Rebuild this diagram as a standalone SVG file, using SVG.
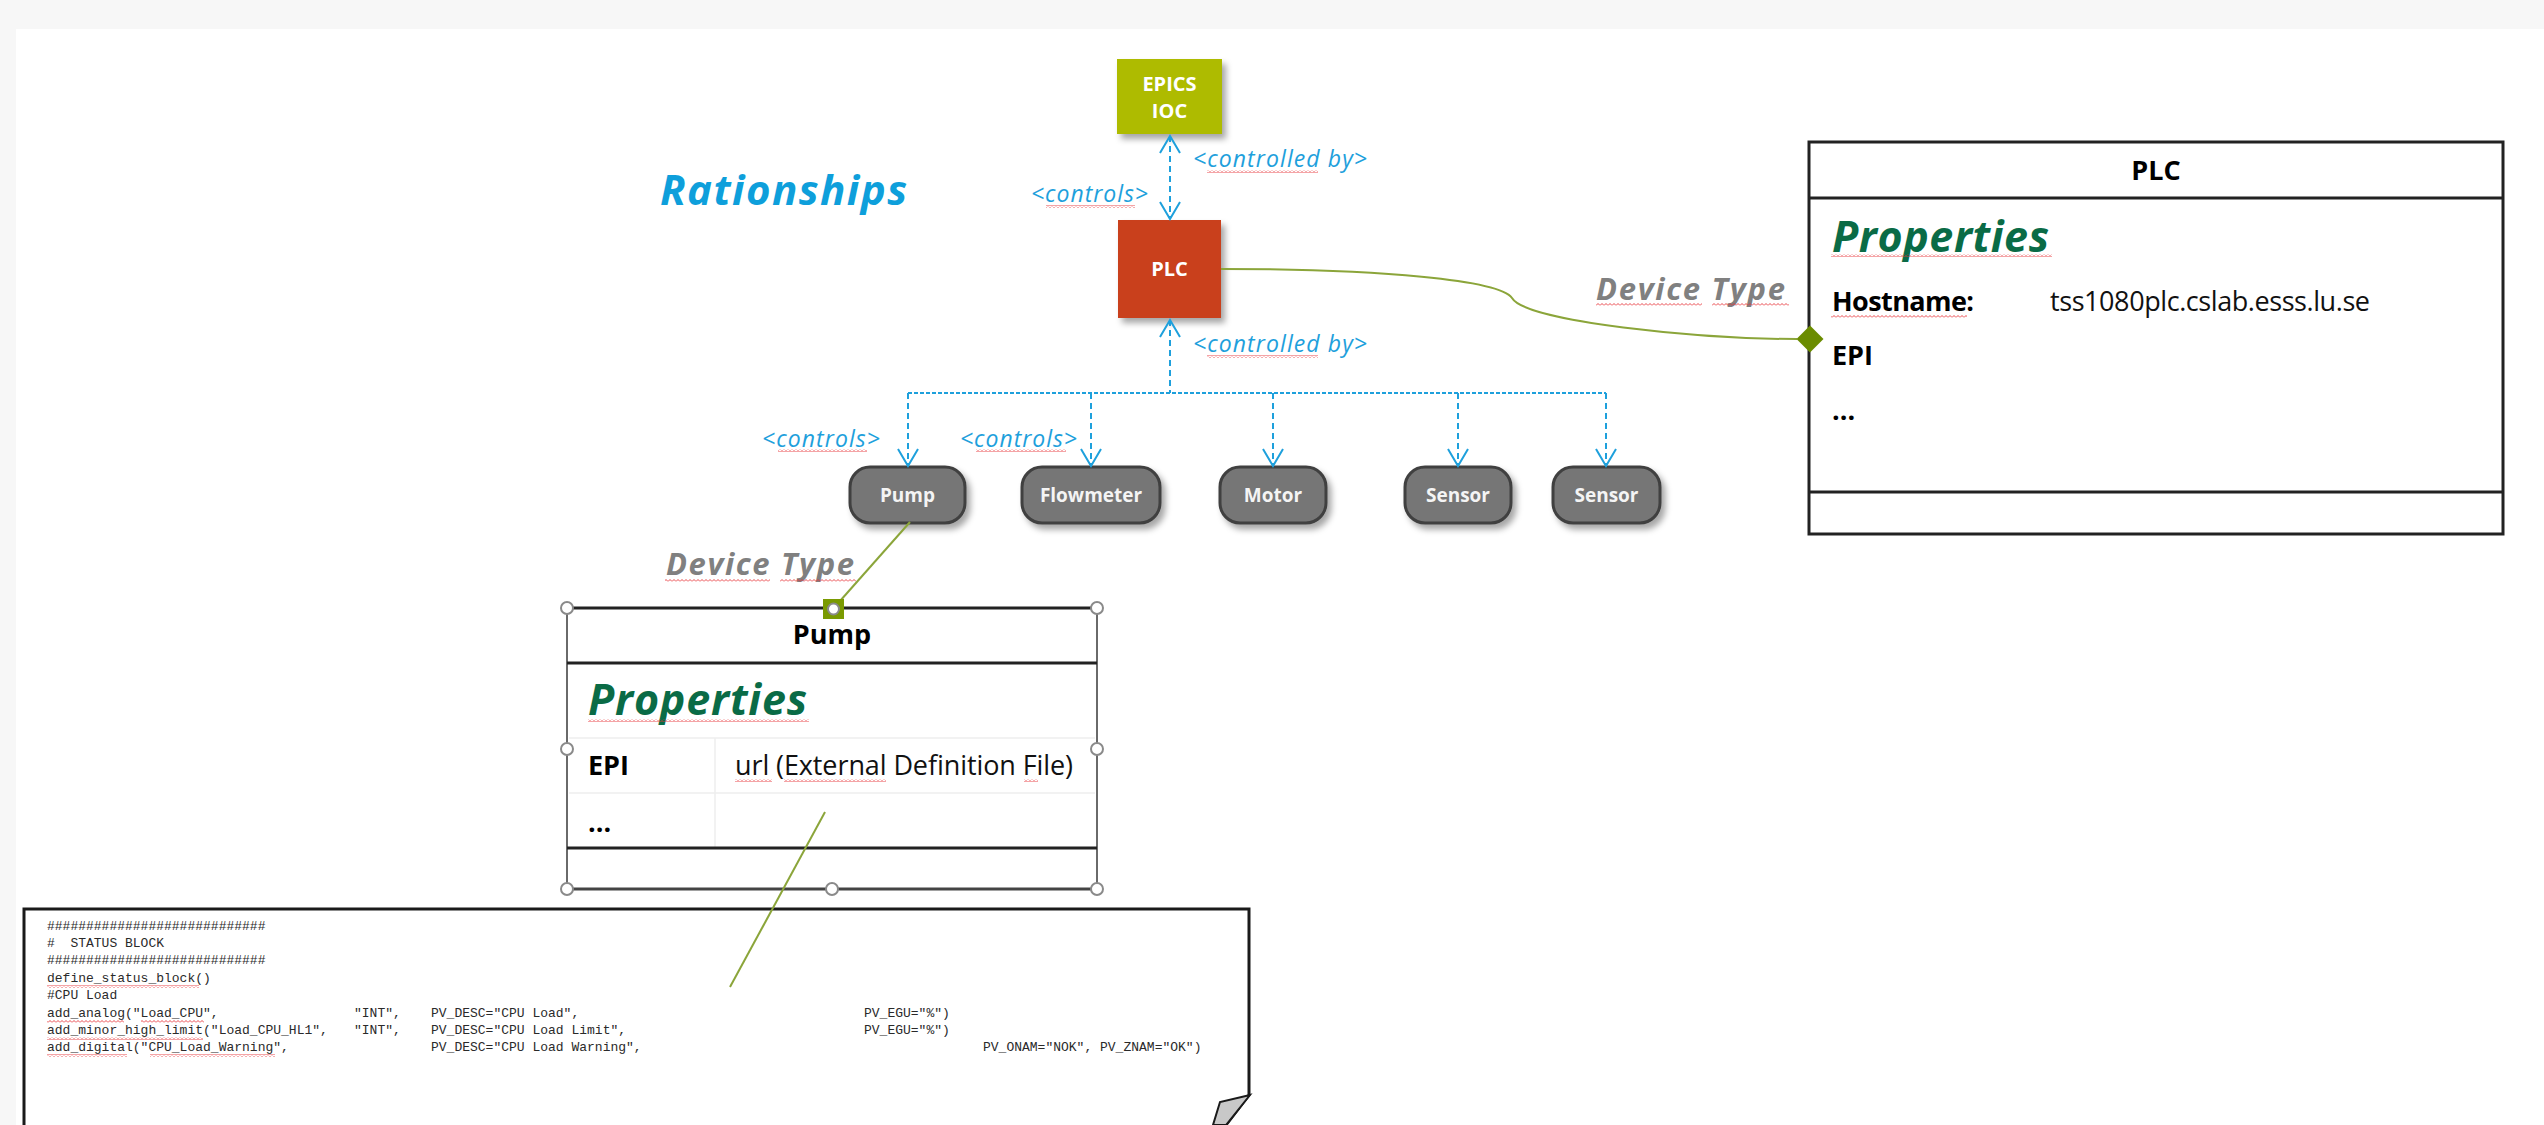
<svg xmlns="http://www.w3.org/2000/svg" width="2544" height="1125" viewBox="0 0 2544 1125">
<defs>
<style>
.bg{fill:#f7f7f7}
.page{fill:#ffffff}
.lbl{font-family:"Open Sans","Noto Sans","Liberation Sans",sans-serif;font-style:italic;font-size:23px;fill:#1ea0dc}
.title{font-family:"Open Sans","Noto Sans","Liberation Sans",sans-serif;font-style:italic;font-weight:bold;font-size:42px;fill:#0e9fdb}
.boxtxt{font-family:"Open Sans","Noto Sans","Liberation Sans",sans-serif;font-weight:bold;font-size:20px;fill:#ffffff;text-anchor:middle}
.pilltxt{font-family:"Open Sans","Noto Sans","Liberation Sans",sans-serif;font-weight:bold;font-size:19px;fill:#f4f4f4;text-anchor:middle}
.pill{fill:#767676;stroke:#3f3f3f;stroke-width:3}
.dt{font-family:"Open Sans","Noto Sans","Liberation Sans",sans-serif;font-style:italic;font-weight:bold;font-size:31px;fill:#808080}
.prop{font-family:"Open Sans","Noto Sans","Liberation Sans",sans-serif;font-style:italic;font-weight:bold;font-size:43px;fill:#0a6b46}
.cls{font-family:"Open Sans","Noto Sans","Liberation Sans",sans-serif;font-weight:bold;font-size:27px;fill:#000000}
.val{font-family:"Open Sans","Noto Sans","Liberation Sans",sans-serif;font-size:27px;fill:#111111}
.code{font-family:"Liberation Mono","DejaVu Sans Mono",monospace;font-size:13px;fill:#2a2a2a;white-space:pre}
.dash{fill:none;stroke:#1ea0dc;stroke-width:2;stroke-dasharray:6 4}
.dot{fill:none;stroke:#1ea0dc;stroke-width:2;stroke-dasharray:4 2}
.green{fill:none;stroke:#8ba53a;stroke-width:2}
.thin{stroke:#eeeeee;stroke-width:1.5}
.handle{fill:#ffffff;stroke:#8a8a8a;stroke-width:2}
.sq{fill:url(#squig)}
</style>
<pattern id="squig" width="4" height="3" patternUnits="userSpaceOnUse">
<path d="M0,2.5 L2,0.5 L4,2.5" fill="none" stroke="#e8343a" stroke-width="0.9"/>
</pattern>
<marker id="arr" viewBox="-20 -12 24 24" refX="0" refY="0" markerWidth="24" markerHeight="24" markerUnits="userSpaceOnUse" orient="auto-start-reverse">
<path d="M-17,-10 L0,0 L-17,10" fill="none" stroke="#1ea0dc" stroke-width="2"/>
</marker>
<filter id="shadow" x="-20%" y="-20%" width="150%" height="150%">
<feDropShadow dx="4" dy="5" stdDeviation="3" flood-color="#000000" flood-opacity="0.35"/>
</filter>
</defs>

<rect class="bg" x="0" y="0" width="2544" height="1125"/>
<rect class="page" x="16" y="29" width="2528" height="1096"/>

<text class="title" x="660" y="205" textLength="247">Rationships</text>

<g id="epics-ioc">
<rect x="1117" y="59" width="105" height="75" fill="#aebb00" filter="url(#shadow)"/>
<text class="boxtxt" x="1169.5" y="91">EPICS</text>
<text class="boxtxt" x="1169.5" y="118">IOC</text>
</g>

<g id="plc">
<rect x="1118" y="220" width="103" height="98" fill="#c9411f" filter="url(#shadow)"/>
<text class="boxtxt" x="1169.5" y="276">PLC</text>
</g>

<g id="pump">
<rect class="pill" x="850" y="467" width="115" height="56" rx="20" filter="url(#shadow)"/>
<text class="pilltxt" x="907.5" y="502">Pump</text>
</g>
<g id="flowmeter">
<rect class="pill" x="1022" y="467" width="138" height="56" rx="20" filter="url(#shadow)"/>
<text class="pilltxt" x="1091" y="502">Flowmeter</text>
</g>
<g id="motor">
<rect class="pill" x="1220" y="467" width="106" height="56" rx="20" filter="url(#shadow)"/>
<text class="pilltxt" x="1273" y="502">Motor</text>
</g>
<g id="sensor1">
<rect class="pill" x="1405" y="467" width="106" height="56" rx="20" filter="url(#shadow)"/>
<text class="pilltxt" x="1458" y="502">Sensor</text>
</g>
<g id="sensor2">
<rect class="pill" x="1553" y="467" width="107" height="56" rx="20" filter="url(#shadow)"/>
<text class="pilltxt" x="1606.5" y="502">Sensor</text>
</g>

<g id="plc-class">
<rect x="1809" y="142" width="694" height="392" fill="#ffffff" stroke="#222222" stroke-width="3"/>
<line x1="1809" y1="198" x2="2503" y2="198" stroke="#222222" stroke-width="3"/>
<line x1="1809" y1="492" x2="2503" y2="492" stroke="#222222" stroke-width="3"/>
<text class="cls" x="2156" y="180" text-anchor="middle" font-size="28">PLC</text>
<text class="prop" x="1832" y="252" textLength="217">Properties</text>
<rect class="sq" x="1831" y="254" width="221" height="3"/>
<text class="cls" x="1832" y="311" textLength="142">Hostname:</text>
<rect class="sq" x="1831" y="315" width="136" height="3"/>
<text class="val" x="2050" y="311" textLength="320">tss1080plc.cslab.esss.lu.se</text>
<text class="cls" x="1832" y="365">EPI</text>
<text class="cls" x="1832" y="420">...</text>
</g>

<g id="pump-class">
<rect x="567" y="608" width="530" height="281" fill="#ffffff" stroke="#6a6a6a" stroke-width="2"/>
<line x1="567" y1="608" x2="1097" y2="608" stroke="#222222" stroke-width="3"/>
<line x1="567" y1="663" x2="1097" y2="663" stroke="#222222" stroke-width="3"/>
<line class="thin" x1="569" y1="738" x2="1095" y2="738"/>
<line class="thin" x1="569" y1="793" x2="1095" y2="793"/>
<line class="thin" x1="715" y1="738" x2="715" y2="848"/>
<line x1="567" y1="848" x2="1097" y2="848" stroke="#222222" stroke-width="3"/>
<line x1="567" y1="889" x2="1097" y2="889" stroke="#444444" stroke-width="3"/>
<text class="cls" x="832" y="644" text-anchor="middle" font-size="26">Pump</text>
<text class="prop" x="588" y="715" textLength="219">Properties</text>
<rect class="sq" x="588" y="719" width="221" height="3"/>
<text class="cls" x="588" y="775">EPI</text>
<text class="val" x="735" y="775" textLength="338">url (External Definition File)</text>
<rect class="sq" x="735" y="779" width="37" height="3"/>
<rect class="sq" x="784" y="779" width="102" height="3"/>
<rect class="sq" x="1024" y="779" width="14" height="3"/>
<text class="cls" x="588" y="832">...</text>
</g>

<g id="code-note">
<path d="M24,1125 L24,909 L1249,909 L1249,1095 L1226,1125" fill="#ffffff" stroke="#1a1a1a" stroke-width="3"/>
<path d="M1250,1095 L1220,1102 L1213,1125 L1226,1125 Z" fill="#c8c8c8" stroke="#1a1a1a" stroke-width="2"/>
<text class="code" x="47" y="930">############################</text>
<text class="code" x="47" y="947">#  STATUS BLOCK</text>
<text class="code" x="47" y="964">############################</text>
<text class="code" x="47" y="982">define_status_block()</text>
<text class="code" x="47" y="999">#CPU Load</text>
<text class="code" y="1016.5"><tspan x="47">add_analog("Load_CPU",</tspan><tspan x="354">"INT",</tspan><tspan x="431">PV_DESC="CPU Load",</tspan><tspan x="864">PV_EGU="%")</tspan></text>
<text class="code" y="1033.5"><tspan x="47">add_minor_high_limit("Load_CPU_HL1",</tspan><tspan x="354">"INT",</tspan><tspan x="431">PV_DESC="CPU Load Limit",</tspan><tspan x="864">PV_EGU="%")</tspan></text>
<text class="code" y="1050.5"><tspan x="47">add_digital("CPU_Load_Warning",</tspan><tspan x="431">PV_DESC="CPU Load Warning",</tspan><tspan x="983">PV_ONAM="NOK", PV_ZNAM="OK")</tspan></text>
<rect class="sq" x="47" y="985" width="152" height="3"/>
<rect class="sq" x="47" y="1020" width="77" height="3"/>
<rect class="sq" x="141" y="1020" width="63" height="3"/>
<rect class="sq" x="47" y="1037" width="156" height="3"/>
<rect class="sq" x="47" y="1054" width="80" height="3"/>
<rect class="sq" x="150" y="1054" width="125" height="3"/>
</g>

<g id="connectors">
<path class="dash" d="M1170,136 L1170,219" marker-start="url(#arr)" marker-end="url(#arr)"/>
<path class="dash" d="M1170,320 L1170,393" marker-start="url(#arr)"/>
<path class="dot" d="M908,393 L1606,393"/>
<path class="dash" d="M908,393 L908,466" marker-end="url(#arr)"/>
<path class="dash" d="M1091,393 L1091,466" marker-end="url(#arr)"/>
<path class="dash" d="M1273,393 L1273,466" marker-end="url(#arr)"/>
<path class="dash" d="M1458,393 L1458,466" marker-end="url(#arr)"/>
<path class="dash" d="M1606,393 L1606,466" marker-end="url(#arr)"/>
<text class="lbl" x="1193" y="167" textLength="174">&lt;controlled by&gt;</text>
<text class="lbl" x="1031" y="202" textLength="117">&lt;controls&gt;</text>
<text class="lbl" x="1193" y="352" textLength="174">&lt;controlled by&gt;</text>
<text class="lbl" x="762" y="447" textLength="118">&lt;controls&gt;</text>
<text class="lbl" x="960" y="447" textLength="117">&lt;controls&gt;</text>
<rect class="sq" x="1207" y="170" width="111" height="3"/>
<rect class="sq" x="1046" y="205" width="89" height="3"/>
<rect class="sq" x="1207" y="355" width="111" height="3"/>
<rect class="sq" x="778" y="449" width="89" height="3"/>
<rect class="sq" x="976" y="449" width="90" height="3"/>
<path class="green" d="M1221,269 C1380,269 1500,280 1512,298 C1526,322 1700,339 1797,339"/>
<path d="M1810,325.5 L1823.5,339 L1810,352.5 L1796.5,339 Z" fill="#6b8c00"/>
<path class="green" d="M910,522 L840,601" stroke-width="1.6"/>
<path class="green" d="M825,812 L730,987" stroke-width="1.6"/>
<text class="dt" x="1596" y="300" textLength="189">Device Type</text>
<rect class="sq" x="1596" y="303" width="106" height="3"/>
<rect class="sq" x="1712" y="303" width="77" height="3"/>
<text class="dt" x="666" y="575" textLength="188">Device Type</text>
<rect class="sq" x="665" y="579" width="105" height="3"/>
<rect class="sq" x="780" y="579" width="76" height="3"/>
</g>

<g id="pump-handles">
<circle class="handle" cx="567" cy="608" r="6"/>
<circle class="handle" cx="1097" cy="608" r="6"/>
<circle class="handle" cx="567" cy="749" r="6"/>
<circle class="handle" cx="1097" cy="749" r="6"/>
<circle class="handle" cx="567" cy="889" r="6"/>
<circle class="handle" cx="832" cy="889" r="6"/>
<circle class="handle" cx="1097" cy="889" r="6"/>
<rect x="823" y="599" width="21" height="20" fill="#7a9a01"/>
<circle class="handle" cx="833.5" cy="609" r="5.5"/>
</g>
</svg>
